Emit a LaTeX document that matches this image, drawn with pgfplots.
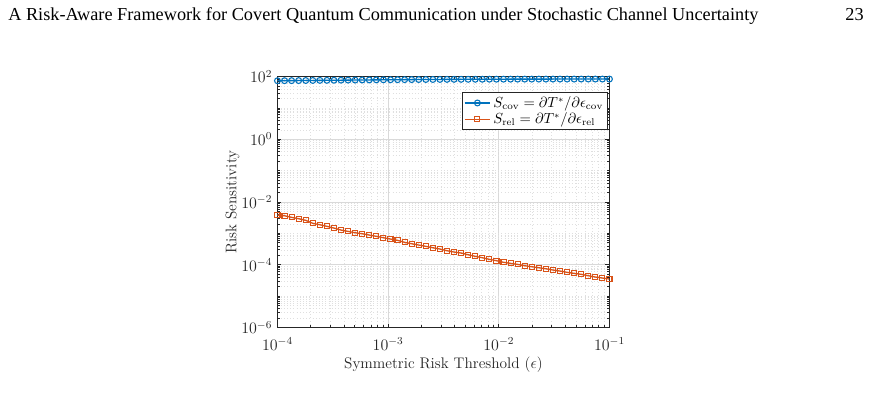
\documentclass[border=0pt]{standalone}
\usepackage{pgfplots}
\pgfplotsset{compat=1.18}
\usepackage{pgfplotstable}
\usepackage{fontspec}
\newfontfamily\headfont{Liberation Serif}

\definecolor{mblue}{rgb}{0,0.4470,0.7410}
\definecolor{morange}{rgb}{0.8500,0.3250,0.0980}
\definecolor{maxis}{rgb}{0.15,0.15,0.15}

% eps, S_cov, S_rel
\pgfplotstableread{
eps          scov   srel
1.0000e-4    73.5   3.85e-3
1.1583e-4    73.8   3.66e-3
1.3418e-4    74.1   3.25e-3
1.5542e-4    74.4   2.94e-3
1.8003e-4    74.8   2.61e-3
2.0853e-4    75.1   2.10e-3
2.4155e-4    75.5   1.89e-3
2.7980e-4    75.8   1.68e-3
3.2410e-4    76.2   1.48e-3
3.7541e-4    76.6   1.28e-3
4.3485e-4    77.0   1.16e-3
5.0370e-4    77.3   1.05e-3
5.8345e-4    77.7   9.77e-4
6.7583e-4    78.0   8.87e-4
7.8284e-4    78.4   8.07e-4
9.0678e-4    78.7   7.28e-4
1.0503e-3    79.0   6.62e-4
1.2166e-3    79.3   6.01e-4
1.4093e-3    79.6   5.19e-4
1.6324e-3    79.9   4.69e-4
1.8909e-3    80.2   4.26e-4
2.1903e-3    80.4   3.87e-4
2.5370e-3    80.7   3.49e-4
2.9387e-3    80.9   3.18e-4
3.4040e-3    81.1   2.81e-4
3.9429e-3    81.3   2.55e-4
4.5672e-3    81.5   2.37e-4
5.2904e-3    81.7   2.09e-4
6.1280e-3    81.9   1.86e-4
7.0983e-3    82.0   1.68e-4
8.2222e-3    82.2   1.49e-4
9.5241e-3    82.3   1.35e-4
1.1032e-2    82.4   1.20e-4
1.2778e-2    82.5   1.11e-4
1.4802e-2    82.6   1.03e-4
1.7145e-2    82.7   9.33e-5
1.9860e-2    82.8   8.67e-5
2.3005e-2    82.9   8.05e-5
2.6647e-2    82.9   7.48e-5
3.0866e-2    83.0   6.81e-5
3.5754e-2    83.0   6.32e-5
4.1415e-2    83.1   5.74e-5
4.7972e-2    83.1   5.33e-5
5.5568e-2    83.1   4.97e-5
6.4367e-2    83.2   4.48e-5
7.4558e-2    83.2   4.07e-5
8.6363e-2    83.2   3.78e-5
1.0000e-1    83.2   3.52e-5
}\sens

\begin{document}
\begin{tikzpicture}
\path[fill=white,use as bounding box] (0,0) rectangle (652.5pt,-300.75pt);

% running head
\node[anchor=base west,inner sep=0pt,font=\headfont\fontsize{13.7}{16}\selectfont] at (6pt,-15pt)
  {A Risk-Aware Framework for Covert Quantum Communication under Stochastic Channel Uncertainty};
\node[anchor=base east,inner sep=0pt,font=\headfont\fontsize{13.7}{16}\selectfont] at (648pt,-15pt) {23};

\begin{axis}[
  at={(208.1pt,-57.4pt)}, anchor=north west,
  scale only axis, width=249pt, height=188.25pt,
  xmode=log, ymode=log,
  xmin=1e-4, xmax=1e-1, ymin=1e-6, ymax=1e2,
  xtick={1e-4,1e-3,1e-2,1e-1},
  ytick={1e-6,1e-4,1e-2,1,1e2},
  minor ytick={2e-6,3e-6,4e-6,5e-6,6e-6,7e-6,8e-6,9e-6,1e-5,
               2e-5,3e-5,4e-5,5e-5,6e-5,7e-5,8e-5,9e-5,
               2e-4,3e-4,4e-4,5e-4,6e-4,7e-4,8e-4,9e-4,1e-3,
               2e-3,3e-3,4e-3,5e-3,6e-3,7e-3,8e-3,9e-3,
               2e-2,3e-2,4e-2,5e-2,6e-2,7e-2,8e-2,9e-2,1e-1,
               2e-1,3e-1,4e-1,5e-1,6e-1,7e-1,8e-1,9e-1,
               2,3,4,5,6,7,8,9,10,20,30,40,50,60,70,80,90},
  tick align=inside,
  major tick length=3pt, minor tick length=1.6pt,
  grid=both,
  major grid style={gray!30, line width=0.45pt},
  minor grid style={gray!25, dotted, line width=0.45pt},
  axis line style={maxis, line width=1pt},
  every tick/.style={maxis, line width=0.6pt},
  tick label style={font=\fontsize{12}{14}\selectfont, text=maxis},
  xticklabel style={yshift=-4pt},
  yticklabel style={xshift=-0.5pt},
  label style={font=\fontsize{11.5}{13}\selectfont, text=maxis},
  xlabel={Symmetric Risk Threshold ($\epsilon$)},
  ylabel={Risk Sensitivity},
  xlabel style={yshift=1.5pt},
  ylabel style={yshift=-5.5pt},
  legend style={at={(0.994,0.938)}, anchor=north east,
    draw=maxis, line width=0.6pt, fill=white,
    font=\fontsize{10.5}{12}\selectfont, inner sep=1pt,
    row sep=-1.5pt, cells={anchor=west}},
  legend cell align=left,
  legend image code/.code={
    \draw[#1] (0pt,0pt) -- (19pt,0pt);
    \draw[#1,only marks] plot coordinates {(9.5pt,0pt)};},
]
\addplot[mblue, line width=1pt, mark=o, mark size=2.2pt,
  mark options={line width=0.8pt}] table[x=eps, y=scov] {\sens};
\addlegendentry{$S_{\mathrm{cov}}=\partial T^{*}/\partial\epsilon_{\mathrm{cov}}$}
\addplot[morange, line width=1pt, mark=square, mark size=1.9pt,
  mark options={line width=0.8pt}] table[x=eps, y=srel] {\sens};
\addlegendentry{$S_{\mathrm{rel}}=\partial T^{*}/\partial\epsilon_{\mathrm{rel}}$}
\end{axis}
\end{tikzpicture}
\end{document}
